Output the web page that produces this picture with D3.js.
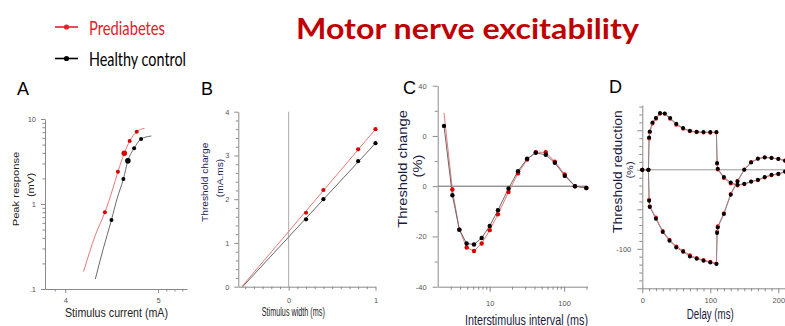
<!DOCTYPE html>
<html>
<head>
<meta charset="utf-8">
<script src="https://cdn.jsdelivr.net/npm/d3@7"></script>
<style>
  body { margin: 0; background: #fff; }
</style>
</head>
<body>
<svg id="chart"></svg>
<script>
// ---- A: stimulus-response (log-log) ----
const curA_pre = [4.40, 4.54, 4.61, 4.67, 4.75];
const respA_pre = [0.80, 2.40, 3.95, 5.51, 7.09];
const curA_hc = [4.47, 4.60, 4.65, 4.72, 4.80];
const respA_hc = [0.65, 1.97, 3.23, 4.52, 5.82];
const fitCurA_pre = [4.18, 4.30, 4.40, 4.48, 4.54, 4.61, 4.67, 4.75, 4.84];
const fitRespA_pre = [0.16, 0.43, 0.80, 1.46, 2.40, 3.95, 5.51, 7.09, 7.77];
const fitCurA_hc = [4.30, 4.38, 4.47, 4.53, 4.60, 4.65, 4.72, 4.80, 4.92];
const fitRespA_hc = [0.131, 0.29, 0.65, 1.15, 1.97, 3.23, 4.52, 5.82, 6.31];

// ---- B: charge-duration ----
const widthB = [0.2, 0.4, 0.8, 1.0];
const chargeB_pre = [1.69, 2.21, 3.14, 3.60];
const chargeB_hc = [1.54, 2.00, 2.87, 3.28];
const fitWidthB_pre = [-0.54, 1.0];
const fitChargeB_pre = [0, 3.60];
const fitWidthB_hc = [-0.53, 1.0];
const fitChargeB_hc = [0, 3.28];

// ---- C: recovery cycle ----
const isiC = [2.43, 3.15, 3.91, 4.9, 6.15, 7.8, 10, 12.9, 17.9, 24, 31.8, 41.6, 56.7, 75, 102, 140, 199];
const rcC_pre = [29.2, -1.3, -17.3, -24.4, -25.8, -22.8, -17.5, -11.2, -2.3, 5.1, 10.6, 13.5, 13.5, 9.8, 4.7, 0, -0.7];
const rcC_hc = [24.0, -3.6, -17.3, -22.8, -23.2, -20.6, -15.8, -9.6, -0.9, 6.0, 10.9, 13.3, 12.5, 9.3, 4.1, 0, -0.7];
const yTickLabelsC = ['-40', '-20', '0', '0', '40'];

// ---- D: threshold electrotonus ----
const delayDep = [0, 9, 10, 11, 15, 20, 26, 33, 41, 50, 60, 70, 80, 90, 100, 109, 110, 111, 120, 130, 140, 150, 160, 170, 180, 190, 200, 210];
const tedDep_hc = [0, 0, 40.9, 48.5, 59.9, 65.4, 71.8, 71.3, 65.4, 58.2, 52.8, 49.4, 48.1, 47.7, 47.7, 47.7, 8.5, 1.3, -9.2, -16.1, -19.0, -17.7, -14.8, -12.7, -9.2, -6.3, -5.1, -2.2];
const tedDep_pre = [0, 0, 39.5, 47.5, 58.5, 64.5, 71.0, 70.8, 64.5, 57.0, 52.0, 48.8, 47.5, 47.2, 47.0, 47.2, 7.5, 0.5, -10.5, -17.5, -19.8, -18.2, -15.2, -13.2, -9.8, -6.8, -5.6, -2.6];
const delayHyp = [0, 9, 10, 11, 20, 30, 40, 50, 60, 70, 80, 90, 100, 109, 110, 111, 120, 130, 140, 150, 160, 170, 180, 190, 200, 210];
const tehHyp_hc = [0, 0, -39.2, -47.2, -62.0, -78.9, -89.9, -98.4, -103.8, -109.7, -112.7, -115.2, -117.3, -119.4, -80.0, -73.0, -56.1, -31.6, -14.8, 0, 9.2, 13.9, 15.6, 14.8, 13.5, 11.4];
const tehHyp_pre = [0, 0, -38.0, -46.0, -60.5, -77.5, -88.5, -97.2, -102.5, -108.3, -111.5, -114.2, -116.5, -118.5, -78.5, -71.5, -55.0, -30.5, -14.0, 0.5, 9.8, 14.3, 15.9, 15.2, 13.9, 11.8];

const RED = '#d90000';
const RED_LINE = '#e77a7a';
const BLACK = '#000';
const BLACK_LINE = '#6a6a6a';
const AXIS = '#8a8a8a';
const FONT = 'Liberation Sans, Arial, sans-serif';
const SQUEEZE = 0.87; // the source figure is a bit squashed horizontally

const svg = d3.select('#chart').attr('width', 785).attr('height', 326);
svg.append('rect').attr('width', 785).attr('height', 326).attr('fill', '#fff');

function drawAxis(gen, transform, minor) {
  const g = svg.append('g').attr('transform', transform).call(gen);
  g.select('.domain').attr('stroke', AXIS);
  g.selectAll('.tick line').attr('stroke', AXIS);
  g.selectAll('.tick text')
      .attr('fill', '#555')
      .attr('font-size', 7.5)
      .attr('font-family', FONT);
  if (minor) g.select('.domain').remove();
  return g;
}

function series(xs, ys, x, y, lineColor, curve) {
  const pts = xs.map((d, i) => [d, ys[i]]);
  const line = d3.line().x(d => x(d[0])).y(d => y(d[1]));
  if (curve) line.curve(curve);
  svg.append('path').datum(pts)
      .attr('fill', 'none').attr('stroke', lineColor).attr('stroke-width', 1)
      .attr('d', line);
}

function dots(xs, ys, x, y, color, r, rBig) {
  svg.append('g').selectAll('circle')
    .data(xs.map((d, i) => [d, ys[i], i]))
    .join('circle')
      .attr('cx', d => x(d[0]))
      .attr('cy', d => y(d[1]))
      .attr('r', d => rBig && d[2] === 2 ? rBig : r)
      .attr('fill', color);
}

// horizontal axis title, fitted to the measured width
function hLabel(text, x, y, size, len, color) {
  svg.append('text')
      .attr('x', x).attr('y', y)
      .attr('text-anchor', 'middle')
      .attr('font-family', FONT)
      .attr('font-size', size)
      .attr('fill', color || '#222')
      .attr('textLength', len)
      .attr('lengthAdjust', 'spacingAndGlyphs')
      .text(text);
}

// vertical axis title: x is the baseline, y the centre
function vLabel(text, x, y, size, color) {
  svg.append('text')
      .attr('transform', `translate(${x},${y}) scale(${SQUEEZE},1) rotate(-90)`)
      .attr('text-anchor', 'middle')
      .attr('font-family', FONT)
      .attr('font-size', size)
      .attr('fill', color || '#222')
      .text(text);
}

// ---------- title & legend ----------
svg.append('text')
    .attr('x', 296).attr('y', 38.5)
    .attr('font-family', 'Lato, Open Sans, sans-serif')
    .attr('font-weight', 'bold')
    .attr('font-size', 28)
    .attr('fill', '#c00000')
    .attr('textLength', 343)
    .attr('lengthAdjust', 'spacingAndGlyphs')
    .text('Motor nerve excitability');

const legend = [
  { name: 'Prediabetes', color: '#e3202a', y: 27, w: 76, base: 34.5 },
  { name: 'Healthy control', color: '#000', y: 58.5, w: 97, base: 65.5 },
];
legend.forEach(l => {
  svg.append('line').attr('x1', 55).attr('x2', 78).attr('y1', l.y).attr('y2', l.y)
      .attr('stroke', l.color).attr('stroke-width', 1.6);
  svg.append('circle').attr('cx', 66.5).attr('cy', l.y).attr('r', 2.6).attr('fill', l.color);
  svg.append('text').attr('x', 89).attr('y', l.base)
      .attr('font-family', 'Lato, Open Sans, sans-serif')
      .attr('font-size', 19).attr('fill', l.color)
      .attr('textLength', l.w).attr('lengthAdjust', 'spacingAndGlyphs')
      .text(l.name);
});

// panel letters
[['A', 17, 95], ['B', 201, 95], ['C', 403, 94], ['D', 609, 93]].forEach(([t, x, y]) => {
  svg.append('text').attr('x', x).attr('y', y)
      .attr('font-family', FONT).attr('font-size', 18).attr('fill', '#000').text(t);
});

// ---------- A ----------
{
  const x = d3.scaleLog().domain([3.81, 5.36]).range([45, 187]);
  const y = d3.scaleLog().domain([0.1, 10]).range([289, 119]);
  drawAxis(d3.axisLeft(y).tickValues([0.1, 1, 10]).tickFormat((d, i) => ['.1', '1', '10'][i])
      .tickSize(4).tickPadding(5).tickSizeOuter(0), 'translate(45,0)');
  drawAxis(d3.axisLeft(y).tickValues([0.2, 0.3, 0.4, 0.5, 0.6, 0.7, 0.8, 0.9, 2, 3, 4, 5, 6, 7, 8, 9])
      .tickFormat('').tickSize(2.5), 'translate(45,0)', true);
  drawAxis(d3.axisBottom(x).tickValues([4, 5]).tickFormat(d3.format('d'))
      .tickSize(4).tickPadding(5).tickSizeOuter(0), 'translate(0,289)');
  drawAxis(d3.axisBottom(x).tickValues([3.9, 5.1, 5.2, 5.3]).tickFormat('').tickSize(2.5),
      'translate(0,289)', true);

  series(fitCurA_pre, fitRespA_pre, x, y, RED_LINE, d3.curveMonotoneX);
  series(fitCurA_hc, fitRespA_hc, x, y, BLACK_LINE, d3.curveMonotoneX);
  dots(curA_pre, respA_pre, x, y, RED, 2, 2.8);
  dots(curA_hc, respA_hc, x, y, BLACK, 2, 2.8);

  vLabel('Peak response', 19, 189, 11.2);
  vLabel('(mV)', 33.5, 185, 11.2);
  hLabel('Stimulus current (mA)', 116.5, 317, 13, 103);
}

// ---------- B ----------
{
  const x = d3.scaleLinear().domain([-0.58, 1]).range([238.3, 375.5]);
  const y = d3.scaleLinear().domain([0, 4]).range([286.7, 111.7]);
  svg.append('line').attr('x1', x(0)).attr('x2', x(0)).attr('y1', y(0)).attr('y2', y(4))
      .attr('stroke', '#aaa').attr('stroke-width', 1);
  drawAxis(d3.axisLeft(y).tickValues([0, 1, 2, 3, 4]).tickFormat(d3.format('d'))
      .tickSize(4).tickPadding(5).tickSizeOuter(0), 'translate(238.3,0)');
  drawAxis(d3.axisLeft(y).tickValues(d3.range(1, 20).filter(i => i % 5).map(i => i / 5))
      .tickFormat('').tickSize(2.5), 'translate(238.3,0)', true);
  drawAxis(d3.axisBottom(x).tickValues([0, 1]).tickFormat(d3.format('d'))
      .tickSize(4).tickPadding(7).tickSizeOuter(0), 'translate(0,286.7)');
  drawAxis(d3.axisBottom(x).tickValues(d3.range(-5, 10).filter(i => i !== 0).map(i => i / 10))
      .tickFormat('').tickSize(2.5), 'translate(0,286.7)', true);

  series(fitWidthB_pre, fitChargeB_pre, x, y, RED_LINE);
  series(fitWidthB_hc, fitChargeB_hc, x, y, BLACK_LINE);
  dots(widthB, chargeB_pre, x, y, RED, 2.1);
  dots(widthB, chargeB_hc, x, y, BLACK, 2.1);

  vLabel('Threshold charge', 208, 182.3, 10.2, '#1d1d5a');
  vLabel('(mA.ms)', 223, 178, 10.2, '#1d1d5a');
  hLabel('Stimulus width (ms)', 293.3, 315.5, 12, 63);
}

// ---------- C ----------
{
  const x = d3.scaleLog().domain([2, 205]).range([437.7, 587.3]);
  const y = d3.scaleLinear().domain([-40, 40]).range([286.7, 85.7]);
  svg.append('line').attr('x1', x(2)).attr('x2', x(205)).attr('y1', y(0)).attr('y2', y(0))
      .attr('stroke', '#666').attr('stroke-width', 1);
  drawAxis(d3.axisLeft(y).tickValues([-40, -20, 0, 20, 40]).tickFormat((d, i) => yTickLabelsC[i])
      .tickSize(5).tickPadding(6).tickSizeOuter(0), 'translate(437.7,0)');
  drawAxis(d3.axisLeft(y).tickValues([-30, -10, 10, 30]).tickFormat('').tickSize(3),
      'translate(437.7,0)', true);
  drawAxis(d3.axisBottom(x).tickValues([10, 100]).tickFormat(d3.format('d'))
      .tickSize(5).tickPadding(9).tickSizeOuter(0), 'translate(0,286.7)');
  drawAxis(d3.axisBottom(x).tickValues([3, 4, 5, 6, 7, 8, 9, 20, 30, 40, 50, 60, 70, 80, 90, 200])
      .tickFormat('').tickSize(3), 'translate(0,286.7)', true);

  series(isiC, rcC_pre, x, y, RED_LINE);
  series(isiC, rcC_hc, x, y, BLACK_LINE);
  dots(isiC.slice(1), rcC_pre.slice(1), x, y, RED, 2.2);
  dots(isiC, rcC_hc, x, y, BLACK, 2.2);

  vLabel('Threshold change', 407.3, 169, 14.7, '#1a1a40');
  vLabel('(%)', 422.3, 166, 14.7, '#1a1a40');
  hLabel('Interstimulus interval (ms)', 526.5, 324.5, 15, 123, '#1a1a40');
}

// ---------- D ----------
{
  const x = d3.scaleLinear().domain([0, 210]).range([642.3, 785.1]);
  const y = d3.scaleLinear().domain([-150, 82]).range([288.3, 105]);
  svg.append('line').attr('x1', x(0)).attr('x2', x(210)).attr('y1', y(0)).attr('y2', y(0))
      .attr('stroke', '#999').attr('stroke-width', 1);
  drawAxis(d3.axisLeft(y).tickValues([-150, -100, -50, 0, 50]).tickFormat(d => d === -100 ? '-100' : '')
      .tickSize(5).tickPadding(6).tickSizeOuter(0), 'translate(642.3,0)');
  drawAxis(d3.axisLeft(y).tickValues(d3.range(-140, 81, 10).filter(v => v % 50))
      .tickFormat('').tickSize(3), 'translate(642.3,0)', true);
  drawAxis(d3.axisBottom(x).tickValues([0, 100, 200]).tickFormat(d3.format('d'))
      .tickSize(5).tickPadding(4).tickSizeOuter(0), 'translate(0,288.3)');
  drawAxis(d3.axisBottom(x).tickValues(d3.range(10, 211, 10).filter(v => v % 100))
      .tickFormat('').tickSize(3), 'translate(0,288.3)', true);

  series(delayDep, tedDep_pre, x, y, RED_LINE);
  series(delayHyp, tehHyp_pre, x, y, RED_LINE);
  dots(delayDep, tedDep_pre, x, y, RED, 2);
  dots(delayHyp, tehHyp_pre, x, y, RED, 2);
  series(delayDep, tedDep_hc, x, y, '#8a8a8a');
  series(delayHyp, tehHyp_hc, x, y, '#8a8a8a');
  dots(delayDep, tedDep_hc, x, y, BLACK, 2);
  dots(delayHyp, tehHyp_hc, x, y, BLACK, 2);

  vLabel('Threshold reduction', 621.5, 171.7, 13.9, '#1a1a40');
  vLabel('(%)', 633, 170, 11, '#1a1a40');
  hLabel('Delay (ms)', 710.3, 319, 14, 47, '#1a1a40');
}
</script>
</body>
</html>
